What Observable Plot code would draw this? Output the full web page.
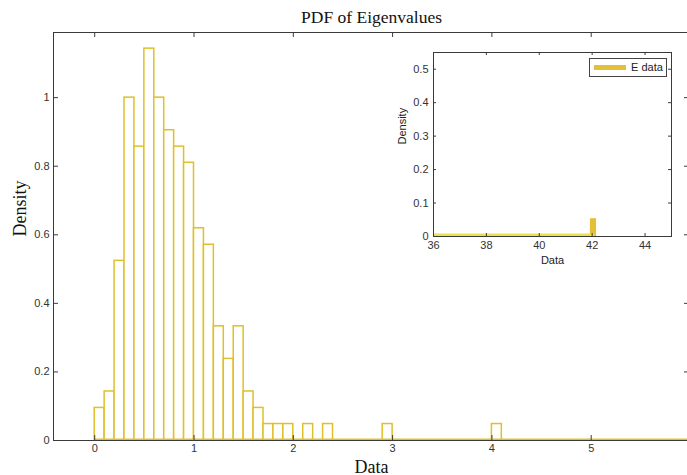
<!DOCTYPE html>
<html>
<head>
<meta charset="utf-8">
<script src="https://cdn.jsdelivr.net/npm/d3@7"></script>
<script src="https://cdn.jsdelivr.net/npm/@observablehq/plot@0.6"></script>
<style>
  html, body { margin: 0; padding: 0; background: white; overflow: hidden; }
  #chart { position: relative; width: 687px; height: 475px; overflow: hidden; }
  #inset { position: absolute; left: 390px; top: 44px; }
  #legend {
    position: absolute; left: 589px; top: 58px; width: 76px; height: 17px;
    border: 1px solid #444; background: white;
    font-family: "Liberation Sans", Arial, sans-serif; font-size: 11px; color: #222;
  }
  #legend .swatch { position: absolute; left: 4px; top: 6px; width: 32px; height: 5px; background: #e4bf38; }
  #legend .label { position: absolute; left: 41px; top: 1px; line-height: 15px; }
</style>
</head>
<body>
<div id="chart"></div>
<script>
// Histogram of eigenvalues: bins of width 0.1, density per bin (non-empty bins only)
const binWidth = 0.1;
const binLeft = [0.0, 0.1, 0.2, 0.3, 0.4, 0.5, 0.6, 0.7, 0.8, 0.9,
                 1.0, 1.1, 1.2, 1.3, 1.4, 1.5, 1.6, 1.7, 1.8, 1.9,
                 2.1, 2.3, 2.9, 4.0, 42.0];
const density = [0.095, 0.143, 0.524, 1.0, 0.857, 1.143, 1.0, 0.905, 0.857, 0.810,
                 0.619, 0.571, 0.333, 0.238, 0.333, 0.143, 0.095, 0.048, 0.048, 0.048,
                 0.048, 0.048, 0.048, 0.048, 0.048];

// Axis ticks
const mainXTicks = [0, 1, 2, 3, 4, 5];
const mainYTicks = [0, 0.2, 0.4, 0.6, 0.8, 1];
const insetXTicks = [36, 38, 40, 42, 44];
const insetYTicks = [0, 0.1, 0.2, 0.3, 0.4, 0.5];

// Text
const titleText = "PDF of Eigenvalues";
const xLabel = "Data";
const yLabel = "Density";
const seriesName = "E data";

const bins = binLeft.map((x0, i) => ({x0, x1: x0 + binWidth, density: density[i]}));
// Empty bins collapse onto the baseline across the whole data range
const span = [{x1: binLeft[0], x2: binLeft[binLeft.length - 1] + binWidth, y: 0}];

const barColor = "#dfc02a";
const insetColor = "#e4bf38";
const axisColor = "#3a3a3a";
const fmt = d => String(+d.toFixed(2));

// Inward tick marks on all four sides of a frame
function boxTicks(xt, yt, innerW, innerH, len, stroke) {
  return [
    Plot.tickX(xt, {x: d => d, insetTop: innerH - len, stroke}),
    Plot.tickX(xt, {x: d => d, insetBottom: innerH - len, stroke}),
    Plot.tickY(yt, {y: d => d, insetRight: innerW - len, stroke}),
    Plot.tickY(yt, {y: d => d, insetLeft: innerW - len, stroke})
  ];
}

// Main axes
const W = 700, H = 475, mL = 53, mR = 11, mT = 32, mB = 35;
const main = Plot.plot({
  width: W, height: H,
  marginLeft: mL, marginRight: mR, marginTop: mT, marginBottom: mB,
  style: {fontFamily: "Liberation Sans, Arial, sans-serif", fontSize: "11px", color: "#333", maxWidth: "none", background: "white"},
  x: {domain: [-0.415, 5.99], ticks: mainXTicks, tickSize: 0, tickPadding: 4, tickFormat: fmt, label: null},
  y: {domain: [0, 1.19], ticks: mainYTicks, tickSize: 0, tickPadding: 4, tickFormat: fmt, label: null},
  marks: [
    Plot.rectY(bins, {x1: "x0", x2: "x1", y: "density", fill: "white", stroke: barColor, strokeWidth: 1.5, clip: true}),
    Plot.frame({stroke: axisColor}),
    Plot.ruleY(span, {x1: "x1", x2: "x2", y: "y", dy: -1.2, stroke: barColor, strokeWidth: 1.5, clip: true}),
    ...boxTicks(mainXTicks, mainYTicks, W - mL - mR, H - mT - mB, 5, axisColor),
    Plot.text([titleText], {frameAnchor: "top", lineAnchor: "bottom", dy: -10, fontFamily: "Liberation Serif, Times New Roman, serif", fontSize: 17.5, fill: "#111"}),
    Plot.text([xLabel], {frameAnchor: "bottom", lineAnchor: "bottom", dy: 32, fontFamily: "Liberation Serif, Times New Roman, serif", fontSize: 18, fill: "#111"}),
    Plot.text([yLabel], {frameAnchor: "left", rotate: -90, dx: -33, fontFamily: "Liberation Serif, Times New Roman, serif", fontSize: 18, fill: "#111"})
  ]
});

// Inset axes: the far tail of the distribution
const iW = 291, iH = 222, iL = 43, iR = 10, iT = 8, iB = 30;
const inset = Plot.plot({
  width: iW, height: iH,
  marginLeft: iL, marginRight: iR, marginTop: iT, marginBottom: iB,
  style: {fontFamily: "Liberation Sans, Arial, sans-serif", fontSize: "11px", color: "#333", background: "transparent", overflow: "visible"},
  x: {domain: [36, 45], ticks: insetXTicks, tickSize: 0, tickPadding: 5, tickFormat: fmt, label: null},
  y: {domain: [0, 0.55], ticks: insetYTicks, tickSize: 0, tickPadding: 5, tickFormat: fmt, label: null},
  marks: [
    Plot.frame({fill: "white"}),
    Plot.rectY(bins, {x1: "x0", x2: "x1", y: "density", fill: insetColor, stroke: insetColor, strokeWidth: 3.5, clip: true}),
    Plot.frame({stroke: axisColor}),
    Plot.ruleY(span, {x1: "x1", x2: "x2", y: "y", dy: -1.8, stroke: "#ebe04e", strokeWidth: 2.6, clip: true}),
    ...boxTicks(insetXTicks, insetYTicks, iW - iL - iR, iH - iT - iB, 3, axisColor),
    Plot.text([xLabel], {frameAnchor: "bottom", lineAnchor: "bottom", dy: 27, fontSize: 11, fill: "#222"}),
    Plot.text([yLabel], {frameAnchor: "left", rotate: -90, dx: -31, fontSize: 11, fill: "#222"})
  ]
});
inset.id = "inset";

const legend = document.createElement("div");
legend.id = "legend";
legend.innerHTML = `<div class="swatch"></div><div class="label">${seriesName}</div>`;

const chart = document.getElementById("chart");
chart.append(main, inset, legend);
</script>
</body>
</html>
